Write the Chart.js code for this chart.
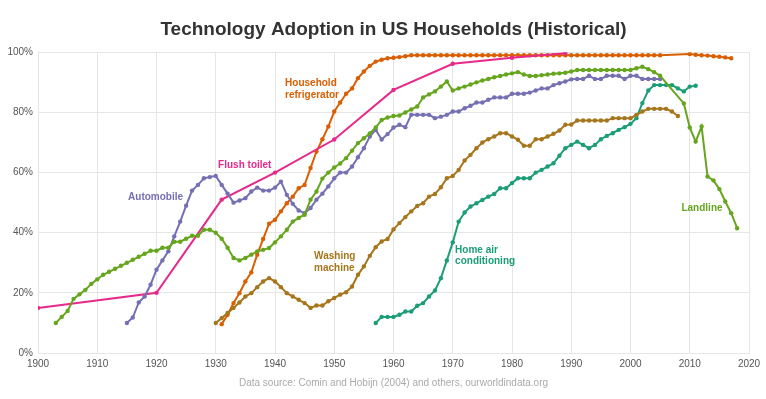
<!DOCTYPE html>
<html>
<head>
<meta charset="utf-8">
<script src="https://cdn.jsdelivr.net/npm/chart.js@4"></script>
<style>
  html, body { margin: 0; padding: 0; background: #fff; }
  #wrap { width: 766px; height: 399px; }
</style>
</head>
<body>
<div id="wrap"><canvas id="chart"></canvas></div>
<script>
// Años consecutivos (solo posiciones en x, los valores van abajo)
const span = (a, b) => Array.from({ length: b - a + 1 }, (_, i) => a + i);

// Teléfono fijo
const landlineYears = [...span(1903, 2005), ...span(2009, 2018)];
const landlineValues = [
  10, 12, 14, 18, 19.5, 21, 23,
  24.5, 26, 27, 28, 29, 30, 31, 32, 33, 34,
  34, 35, 35, 37, 37, 38, 39, 39, 41, 41,
  40, 38, 35, 31.6, 30.8, 31.6, 32.7, 33.8, 34.3, 34.9,
  36.8, 38.8, 41, 43.7, 44.9, 46, 51, 53.7, 58, 60,
  61.7, 63, 64.8, 67.3, 69.8, 71.4, 73, 75, 77.5, 78.3,
  78.8, 79, 80, 81, 82, 85, 86, 87, 88.6, 90.3,
  87.3, 88, 88.6, 89.3, 90, 90.6, 91.1, 91.7, 92.1, 92.6,
  93, 93.4, 92.6, 92.1, 92.1, 92.4, 92.6, 92.9, 93, 93.2,
  93.6, 94.1, 94.1, 94.1, 94.1, 94.1, 94.1, 94.1, 94.1, 94.1,
  94.1, 94.7, 95.2, 94.4, 93.4, 92.2,
  83, 75, 70.3, 75.3, 58.7, 57.4, 54.5, 50.4, 46.5, 41.5
];

// Automóvil
const autoYears = span(1915, 2005);
const autoValues = [
  10, 11.8, 16.8, 18.8, 22.7,
  27.7, 30.8, 33.8, 38.8, 43.7, 49, 54, 55.9, 58.1, 58.5,
  58.9, 55.9, 53, 50, 50.7, 51.5, 53.7, 55, 54, 54,
  55, 57, 52.6, 49.6, 47.4, 46.5, 48.2, 51, 53, 55.4,
  58.1, 60, 60, 62, 65.1, 68.1, 72, 74.2, 71, 72.8,
  75, 75.9, 75.1, 79.2, 79.2, 79.2, 79.2, 78.1, 78.6, 79.2,
  80.3, 80.3, 81.4, 82.2, 83.3, 83.3, 84.2, 85, 85, 85,
  86.2, 86.2, 86.2, 86.6, 87.3, 88, 88, 89.1, 89.7, 90.3,
  91, 91.1, 91.1, 92.2, 91.1, 91.1, 92.2, 92.2, 92.2, 91.1,
  92.2, 92.2, 91.1, 91.1, 91.1, 91.1
];

// Inodoro
const toiletYears = [1900, 1920, 1931, 1940, 1950, 1960, 1970, 1980, 1989];
const toiletValues = [15, 20, 51, 60, 71, 87.5, 96.2, 98.2, 99.7];

// Refrigerador
const fridgeYears = [...span(1931, 2005), ...span(2010, 2017)];
const fridgeValues = [
  9.6, 12.7, 16.6, 19.9, 23.8, 26.8, 32.7, 37.9, 43,
  44.3, 47.1, 49.8, 52, 54.8, 55.9, 61.5, 67, 71.1, 75.3,
  80.3, 83.3, 86.2, 88, 91.4, 93.6, 95.5, 96.9, 97.5, 98,
  98.2, 98.4, 98.7, 99, 99, 99, 99, 99, 99, 99,
  99, 99, 99, 99, 99, 99, 99, 99, 99, 99,
  99, 99, 99, 99, 99, 99, 99, 99, 99, 99,
  99, 99, 99, 99, 99, 99, 99, 99, 99, 99,
  99, 99, 99, 99, 99, 99,
  99.4, 99.2, 99, 98.9, 98.7, 98.5, 98.3, 98
];

// Lavadora
const washerYears = span(1930, 2008);
const washerValues = [
  10, 11.6, 13.3, 15, 16.8, 18.8, 19.9, 21.9, 23.8, 24.9,
  23.8, 21.9, 19.9, 18.8, 17.7, 16.6, 15, 15.8, 15.8, 17.2,
  18.3, 19.4, 20.2, 22.1, 26, 28.8, 32.3, 35.2, 37.1, 37.9,
  41.1, 43.2, 45.2, 47.1, 48.9, 49.8, 52, 52.9, 55.1, 58.1,
  58.9, 60.9, 64, 65.9, 68.1, 70, 71.1, 72, 73.1, 73.1,
  72, 70.9, 68.9, 68.9, 71.1, 71.1, 72, 72.9, 74, 75.9,
  76, 77.3, 77.3, 77.3, 77.3, 77.3, 77.3, 78.1, 78.1, 78.1,
  78.1, 79.2, 80.3, 81.2, 81.2, 81.2, 81.2, 80.3, 78.8
];

// Aire acondicionado
const acYears = span(1957, 2011);
const acValues = [
  10, 12, 12,
  12, 12.7, 13.8, 13.8, 15.7, 16.6, 18.8, 20.8, 24.9, 30.8,
  36.8, 43.7, 46.7, 48.7, 49.8, 50.9, 52, 52.9, 54.8, 54.8,
  56.5, 58.1, 58.1, 58.1, 60, 60.9, 62, 63.1, 65.6, 68.1,
  69.2, 70.3, 69.2, 68.1, 69.2, 71.1, 72.2, 73.1, 74.2, 75.1,
  76.2, 78.1, 83.1, 87.3, 89.1, 89.1, 89.1, 89.1, 88, 87,
  88.6, 88.9
];

const xTicks = { min: 1900, max: 2020, step: 10 };
const yTicks = { min: 0, max: 100, step: 20 };

const toPoints = (xs, ys) => xs.map((x, i) => ({ x: x, y: ys[i] }));

function serie(label, xs, ys, color) {
  return {
    label: label,
    data: toPoints(xs, ys),
    borderColor: color,
    backgroundColor: color,
    pointBackgroundColor: color,
    pointBorderWidth: 0,
    pointRadius: 2.2,
    borderWidth: 2,
    tension: 0,
    fill: false
  };
}

// Etiquetas sobre las líneas (año, valor)
const etiquetas = [
  { lines: ["Household", "refrigerator"], x: 1941.7, y: 89.7, color: "#D95F02" },
  { lines: ["Flush toilet"], x: 1930.4, y: 62.6, color: "#E7298A" },
  { lines: ["Automobile"], x: 1915.2, y: 51.8, color: "#7570B3" },
  { lines: ["Washing", "machine"], x: 1946.6, y: 32.1, color: "#A6761D" },
  { lines: ["Home air", "conditioning"], x: 1970.4, y: 34.3, color: "#1B9E77" },
  { lines: ["Landline"], x: 2008.6, y: 48.2, color: "#66A61E" }
];

const etiquetasPlugin = {
  id: "etiquetas",
  afterDatasetsDraw(chart) {
    const ctx = chart.ctx;
    const sx = chart.scales.x;
    const sy = chart.scales.y;
    ctx.save();
    ctx.font = "bold 10px 'Liberation Sans', Arial, sans-serif";
    ctx.textAlign = "left";
    ctx.textBaseline = "middle";
    etiquetas.forEach(e => {
      const px = sx.getPixelForValue(e.x);
      const py = sy.getPixelForValue(e.y);
      ctx.fillStyle = e.color;
      e.lines.forEach((t, i) => ctx.fillText(t, px, py + i * 11.7));
    });
    ctx.restore();
  }
};

const gridColor = "#e6e6e6";

new Chart(document.getElementById("chart"), {
  type: "line",
  data: {
    datasets: [
      serie("Landline", landlineYears, landlineValues, "#66A61E"),
      serie("Automobile", autoYears, autoValues, "#7570B3"),
      serie("Washing machine", washerYears, washerValues, "#A6761D"),
      serie("Home air conditioning", acYears, acValues, "#1B9E77"),
      serie("Flush toilet", toiletYears, toiletValues, "#E7298A"),
      serie("Household refrigerator", fridgeYears, fridgeValues, "#D95F02")
    ]
  },
  options: {
    responsive: true,
    maintainAspectRatio: false,
    animation: false,
    layout: { padding: { left: 1, right: 17, top: 0, bottom: 0 } },
    plugins: {
      legend: { display: false },
      tooltip: { enabled: false },
      title: {
        display: true,
        fullSize: false,
        text: "Technology Adoption in US Households (Historical)",
        color: "#333",
        font: { family: "'Liberation Sans', Arial, sans-serif", size: 19, weight: "bold" },
        padding: { top: 18.6, bottom: 10.9 }
      },
      subtitle: {
        display: true,
        fullSize: false,
        position: "bottom",
        text: "Data source: Comin and Hobijn (2004) and others, ourworldindata.org",
        color: "#aaa",
        font: { family: "'Liberation Sans', Arial, sans-serif", size: 10 },
        padding: { top: 4.5, bottom: 9.5 }
      }
    },
    scales: {
      x: {
        type: "linear",
        min: xTicks.min,
        max: xTicks.max,
        afterFit: s => { s.height = 20; },
        ticks: {
          stepSize: xTicks.step,
          padding: 5.5,
          maxRotation: 0,
          color: "#555",
          font: { family: "'Liberation Sans', Arial, sans-serif", size: 10 },
          callback: v => String(v)
        },
        grid: { color: gridColor, drawTicks: false },
        border: { color: gridColor }
      },
      y: {
        min: yTicks.min,
        max: yTicks.max,
        afterFit: s => { s.width = 37; },
        ticks: {
          stepSize: yTicks.step,
          padding: 5,
          color: "#555",
          font: { family: "'Liberation Sans', Arial, sans-serif", size: 10 },
          callback: v => v + "%"
        },
        grid: { color: gridColor, drawTicks: false },
        border: { color: gridColor }
      }
    }
  },
  plugins: [etiquetasPlugin]
});
</script>
</body>
</html>
